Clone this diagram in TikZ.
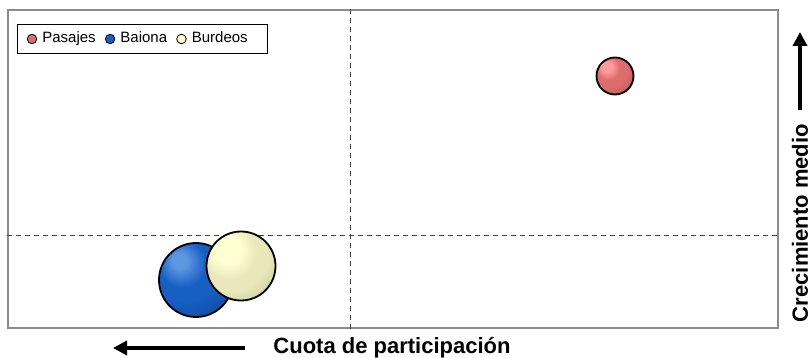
\documentclass[tikz,border=0pt]{standalone}
\usepackage{fontspec}
\setmainfont{Liberation Sans}
\usetikzlibrary{positioning, arrows.meta, shadings}
\definecolor{pasajeshi}{RGB}{252,155,155}
\definecolor{pasajesmid}{RGB}{222,108,108}
\definecolor{pasajesrim}{RGB}{150,65,65}
\definecolor{baionahi}{RGB}{95,150,225}
\definecolor{baionamid}{RGB}{22,95,195}
\definecolor{baionarim}{RGB}{8,48,120}
\definecolor{burdeoshi}{RGB}{255,255,210}
\definecolor{burdeosmid}{RGB}{232,232,186}
\definecolor{burdeosrim}{RGB}{165,165,125}
\pgfdeclareradialshading{pasajesball}{\pgfpoint{-12bp}{14bp}}{color(0bp)=(pasajeshi); color(7bp)=(pasajeshi); color(16bp)=(pasajesmid); color(24bp)=(pasajesmid); color(38bp)=(pasajesmid!55!pasajesrim); color(52bp)=(pasajesrim); color(70bp)=(pasajesrim)}
\pgfdeclareradialshading{baionaball}{\pgfpoint{-12bp}{14bp}}{color(0bp)=(baionahi); color(5bp)=(baionahi); color(16bp)=(baionamid); color(24bp)=(baionamid); color(38bp)=(baionamid!55!baionarim); color(52bp)=(baionarim); color(70bp)=(baionarim)}
\pgfdeclareradialshading{burdeosball}{\pgfpoint{-12bp}{14bp}}{color(0bp)=(burdeoshi); color(10bp)=(burdeoshi); color(20bp)=(burdeosmid); color(27bp)=(burdeosmid); color(40bp)=(burdeosmid!50!burdeosrim); color(52bp)=(burdeosrim); color(70bp)=(burdeosrim)}
\tikzstyle{bubble} = [circle, draw=black, line width=1.8pt, inner sep=0pt]
\tikzstyle{marker} = [circle, draw=black, line width=0.8pt, inner sep=0pt, minimum size=9.5pt]
\tikzstyle{legendtext} = [inner sep=0pt, text height=11pt, text depth=3pt, font=\fontsize{15}{17}\selectfont]
\tikzstyle{quadline} = [draw=black!75, line width=1pt, dash pattern=on 5pt off 4pt]
\tikzstyle{axisarrow} = [line width=4pt, -{Triangle[length=14pt, width=14pt]}]
\tikzstyle{axislabel} = [inner sep=0pt, font=\bfseries\fontsize{22}{25}\selectfont]

\begin{document}
\begin{tikzpicture}[x=1pt, y=-1pt]
\useasboundingbox (0,0) rectangle (812,358);

% Plot area
\node (frame) [draw=black!45, line width=1.5pt, minimum width=770pt, minimum height=318pt, inner sep=0pt] at (393,169) {};
\coordinate (mid) at (350,236);
\draw [quadline] (mid |- frame.north) -- (mid |- frame.south);
\draw [quadline] (mid -| frame.west) -- (mid -| frame.east);

% Bubbles
\node (pasajes) [bubble, shading=pasajesball, minimum size=37pt] at (615,76) {};
\node (baiona) [bubble, shading=baionaball, minimum size=74pt] at (196,280) {};
\node (burdeos) [bubble, shading=burdeosball, minimum size=69pt] at (241,266) {};

% Legend
\node (legend) [draw=black, line width=0.8pt, fill=white, minimum width=250pt, minimum height=29pt, inner sep=0pt] at (142,39) {};
\node (mkpasajes) [marker, fill=pasajesmid] at (32,39) {};
\node (lpasajes) [legendtext, right=5pt of mkpasajes] {Pasajes};
\node (mkbaiona) [marker, fill=baionamid, right=9pt of lpasajes] {};
\node (lbaiona) [legendtext, right=5pt of mkbaiona] {Baiona};
\node (mkburdeos) [marker, fill=burdeoshi, right=9pt of lbaiona] {};
\node (lburdeos) [legendtext, right=5pt of mkburdeos] {Burdeos};

% Axis labels
\node (xlabel) [axislabel] at (392,348) {Cuota de participación};
\coordinate (xtail) at (245,348);
\coordinate (xhead) at (113,348);
\draw [axisarrow] (xtail) -- (xhead);

\node (ylabel) [axislabel, rotate=90] at (800,223) {Crecimiento medio};
\coordinate (ytail) at (800,110);
\coordinate (yhead) at (800,32);
\draw [axisarrow] (ytail) -- (yhead);

\end{tikzpicture}
\end{document}
